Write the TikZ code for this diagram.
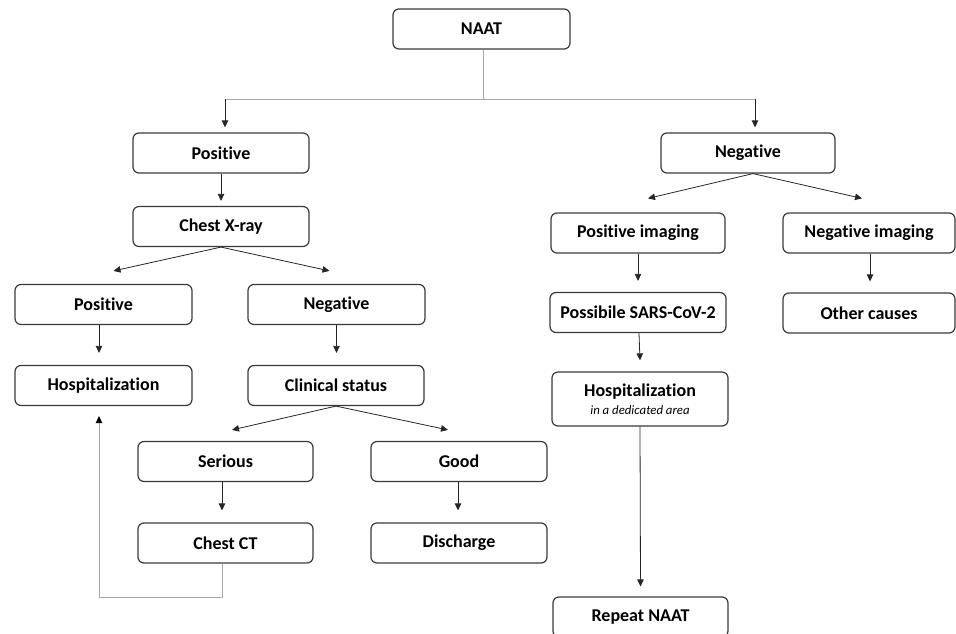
\documentclass[tikz,border=0pt]{standalone}
\usepackage{fontspec}
\setmainfont[Ligatures={NoCommon}]{Carlito}
\usetikzlibrary{arrows.meta}
\definecolor{boxline}{HTML}{3A3A3A}
\definecolor{linkgray}{HTML}{A8A8A8}
\tikzset{
  box/.style={draw=boxline, line width=1.2pt, rounded corners=6pt, rectangle,
    minimum width=176pt, minimum height=40pt, inner sep=0pt, align=center,
    font=\fontsize{18}{20}\selectfont\bfseries},
  arr/.style={draw=black!85, line width=0.8pt, -{Triangle[length=7pt,width=6.5pt]}},
  glink/.style={draw=linkgray, line width=1pt},
  garr/.style={draw=linkgray, line width=1pt, -{Triangle[length=7pt,width=6.5pt,color=black]}}
}
\begin{document}
\begin{tikzpicture}[x=1pt,y=-1pt]
\useasboundingbox (0,0) rectangle (956,634);
\clip (0,0) rectangle (956,634);
% nodes
\node[box, minimum width=177pt] (naat) at (481.5,29) {NAAT};
\node[box] (postop) at (221,153) {Positive};
\node[box] (chestx) at (221,226.5) {Chest X-ray};
\node[box, minimum width=177pt] (pos2) at (103.5,304.5) {Positive};
\node[box, minimum width=177pt] (hosp) at (103.5,385.5) {Hospitalization};
\node[box, minimum width=177pt] (neg2) at (336.5,304.5) {Negative};
\node[box] (clin) at (336,385.5) {Clinical status};
\node[box, minimum width=175pt] (serious) at (225.5,461.5) {Serious};
\node[box, minimum width=175pt] (chestct) at (225.5,543) {Chest CT};
\node[box] (good) at (459,461.5) {Good};
\node[box] (disch) at (459,543) {Discharge};
\node[box, minimum width=174pt] (negtop) at (748,153) {Negative};
\node[box, minimum width=174pt] (posimg) at (638,233) {Positive imaging};
\node[box, minimum width=172pt] (negimg) at (869,233) {Negative imaging};
\node[box, minimum width=176pt] (possib) at (638,312.5) {Possibile SARS-CoV-2};
\node[box, minimum width=172pt] (other) at (869,313) {Other causes};
\node[box, minimum height=54pt] (hospded) at (640,399) {Hospitalization\\[-2pt]{\fontsize{12.8}{14}\selectfont\mdseries\itshape in a dedicated area}};
\node[box, minimum width=175pt] (repeat) at (640.5,617) {Repeat NAAT};
% top tree
\coordinate (jc) at (483,99);
\coordinate (jl) at (225,99);
\coordinate (jr) at (755,99);
\draw[glink] (naat.south -| jc) -- (jc);
\draw[glink] (jl) -- (jr);
\draw[arr] (jl) -- ([yshift=5pt]postop.north -| jl);
\draw[arr] (jr) -- ([yshift=5pt]negtop.north -| jr);
% left branch
\draw[arr] (postop.south) -- ([yshift=5pt]chestx.north);
\draw[arr] (chestx.south) -- ([xshift=10pt,yshift=13pt]pos2.north);
\draw[arr] (chestx.south) -- ([xshift=-7pt,yshift=13pt]neg2.north);
\draw[arr] ([xshift=-4.5pt]pos2.south) -- ([xshift=-4.5pt,yshift=12pt]hosp.north);
\draw[arr] (neg2.south) -- ([yshift=12pt]clin.north -| neg2.south);
\draw[arr] (clin.south) -- ([xshift=6.5pt,yshift=11pt]serious.north);
\draw[arr] (clin.south) -- ([xshift=-11pt,yshift=11pt]good.north);
\draw[arr] ([xshift=-3.5pt]serious.south) -- ([xshift=-3.5pt,yshift=12pt]chestct.north);
\draw[arr] ([xshift=-1pt]good.south) -- ([xshift=-1pt,yshift=12pt]disch.north);
\coordinate (fb1) at (222,597);
\coordinate (fb2) at (99,597);
\draw[garr] ([xshift=-3.5pt]chestct.south) -- (fb1) -- (fb2) -- ([yshift=-10pt]hosp.south -| fb2);
% right branch
\draw[arr] ([xshift=5pt]negtop.south) -- ([xshift=10pt,yshift=14pt]posimg.north);
\draw[arr] ([xshift=5pt]negtop.south) -- ([xshift=-7pt,yshift=14pt]negimg.north);
\draw[arr] (posimg.south) -- ([yshift=11pt]possib.north);
\draw[arr] ([xshift=1pt]negimg.south) -- ([xshift=1pt,yshift=11pt]other.north);
\draw[arr] ([xshift=1pt]possib.south) -- ([xshift=-0pt,yshift=11pt]hospded.north);
\draw[arr] (hospded.south) -- ([yshift=10pt]repeat.north);
\end{tikzpicture}
\end{document}
